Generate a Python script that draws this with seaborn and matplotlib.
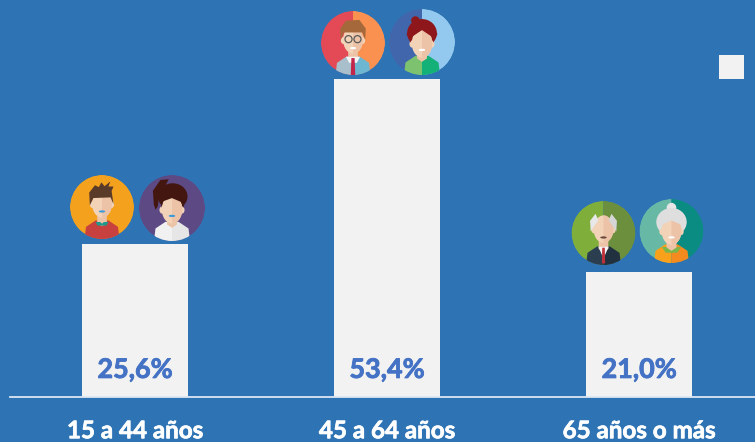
import numpy as np
import pandas as pd
import matplotlib
matplotlib.use('Agg')
import matplotlib.pyplot as plt
import matplotlib.patheffects as pe
import seaborn as sns
from matplotlib.patches import Circle, Ellipse, Polygon, Rectangle, Wedge

# Datos
categorias = ['15 a 44 años', '45 a 64 años', '65 años o más']
porcentajes = [25.6, 53.4, 21.0]
etiquetas = ['25,6%', '53,4%', '21,0%']

FONDO = '#2E74B5'
BARRA = '#F2F2F2'
TEXTO_VALOR = '#4472C4'

sns.set_theme(style='white')
plt.rcParams['font.family'] = ['Lato', 'DejaVu Sans']

W, H = 755, 442
fig = plt.figure(figsize=(W / 100, H / 100), dpi=100, facecolor=FONDO)
ax = fig.add_axes([10 / W, 1 - 397 / H, 745 / W, 397 / H], facecolor=FONDO)

df = pd.DataFrame({'categoria': categorias, 'porcentaje': porcentajes})
sns.barplot(data=df, x='categoria', y='porcentaje', color=BARRA, saturation=1, width=106 / 252, linewidth=0, ax=ax)
ax.set_xlim(-125 / 252, 2 + 116 / 252)
ax.set_ylim(0, 397 / 5.96)
ax.set_xlabel('')
ax.set_ylabel('')
ax.set_yticks([])
for lado in ['top', 'left', 'right']:
    ax.spines[lado].set_visible(False)
ax.spines['bottom'].set_color('#DCE6F2')
ax.spines['bottom'].set_linewidth(1.3)
ax.tick_params(axis='x', length=0, pad=16)
ax.set_xticks(range(3))
ax.set_xticklabels(categorias, color='white', fontweight='bold', fontsize=17.4)
for t in ax.get_xticklabels():
    t.set_path_effects([pe.withStroke(linewidth=0.5, foreground='white')])

for i, txt in enumerate(etiquetas):
    t = ax.text(i, 3.2, txt, ha='center', va='baseline', color=TEXTO_VALOR, fontweight='bold', fontsize=19.4)
    t.set_path_effects([pe.withStroke(linewidth=0.6, foreground=TEXTO_VALOR)])

# Capa en pixeles para la decoracion
capa = fig.add_axes([0, 0, 1, 1], facecolor='none')
capa.set_xlim(0, W)
capa.set_ylim(H, 0)
capa.axis('off')
capa.add_patch(Rectangle((719, 55), 25, 24, color=BARRA, lw=0))


def media_elipse(cx, cy, rx, ry):
    t = np.linspace(-np.pi / 2, np.pi / 2, 40)
    return np.column_stack([cx + rx * np.cos(t), cy + ry * np.sin(t)])


def avatar(cx, cy, r, izq, der, piel, piel2, cuerpo, cuerpo2):
    clip = Circle((cx, cy), r, transform=capa.transData)

    def poner(p):
        capa.add_patch(p)
        p.set_clip_path(clip)
        return p

    def pol(puntos, color):
        pts = np.array(puntos, dtype=float) * r + [cx, cy]
        return poner(Polygon(pts, closed=True, color=color, lw=0))

    # y va hacia abajo en esta capa
    poner(Wedge((cx, cy), r, 90, 270, color=izq, lw=0))
    poner(Wedge((cx, cy), r, -90, 90, color=der, lw=0))
    pol([[-0.56, 1.1], [-0.5, 0.62], [-0.2, 0.42], [0, 0.42], [0, 1.1]], cuerpo)
    pol([[0.56, 1.1], [0.5, 0.62], [0.2, 0.42], [0, 0.42], [0, 1.1]], cuerpo2)
    pol([[-0.15, 0.15], [0.15, 0.15], [0.15, 0.5], [0, 0.6], [-0.15, 0.5]], piel2)

    def cara(cy0=-0.12):
        for sx in (-1, 1):
            poner(Ellipse((cx + sx * 0.3 * r, cy + (cy0 + 0.02) * r), 0.16 * r, 0.22 * r, color=piel, lw=0))
        poner(Ellipse((cx, cy + cy0 * r), 0.62 * r, 0.86 * r, color=piel, lw=0))
        mitad = media_elipse(cx, cy + cy0 * r, 0.31 * r, 0.43 * r)
        poner(Polygon(mitad, closed=True, color=piel2, lw=0))

    def boca(color='white', y=0.1):
        poner(Ellipse((cx, cy + y * r), 0.2 * r, 0.07 * r, color=color, lw=0))

    return poner, pol, cara, boca


# Hombre joven
poner, pol, cara, boca = avatar(102, 207, 32, '#F4A11D', '#F4A11D', '#F3D3B7', '#EDC3A8', '#C8413F', '#C8413F')
pol([[-0.2, 0.47], [0.2, 0.47], [0.14, 0.58], [-0.14, 0.58]], '#1E9A8A')
pol([[-0.13, 0.4], [0.13, 0.4], [0, 0.52]], '#EDC3A8')
cara(-0.1)
pol([[-0.38, -0.05], [-0.4, -0.45], [-0.22, -0.68], [-0.1, -0.62], [-0.02, -0.77], [0.08, -0.65],
     [0.26, -0.8], [0.2, -0.64], [0.36, -0.64], [0.3, -0.5], [0.36, -0.08], [0.27, -0.3], [-0.27, -0.28]], '#5A3A28')
boca('#3F9BD8', 0.14)

# Mujer joven
poner, pol, cara, boca = avatar(172, 208, 33, '#5D4A85', '#5D4A85', '#F3D3B7', '#EDC3A8', '#F1F1F1', '#E6E6E6')
pol([[-0.55, -0.1], [-0.58, -0.52], [-0.35, -0.85], [-0.1, -0.87], [-0.2, -0.68], [-0.38, -0.45], [-0.43, -0.05], [-0.5, 0.05]], '#43160F')
poner(Ellipse((172 + 0.02 * 33, 208 - 0.35 * 33), 0.9 * 33, 0.8 * 33, color='#43160F', lw=0))
cara(0.04)
pol([[-0.32, 0.0], [-0.28, -0.2], [0.0, -0.3], [0.28, -0.18], [0.34, 0.0], [0.42, -0.35], [0.1, -0.55], [-0.35, -0.5]], '#43160F')
boca('#3F9BD8', 0.24)

# Hombre de mediana edad
poner, pol, cara, boca = avatar(353, 43, 32, '#E34A56', '#FB9150', '#F3D3B7', '#EDC3A8', '#A9BFCB', '#6DB7D2')
pol([[-0.22, 0.43], [0.22, 0.43], [0.12, 0.62], [-0.12, 0.62]], '#F5F5F5')
pol([[-0.05, 0.47], [0.05, 0.47], [0.07, 1.0], [-0.07, 1.0]], '#C2274B')
cara(-0.1)
pol([[-0.38, -0.1], [-0.4, -0.45], [-0.22, -0.7], [0.2, -0.72], [0.4, -0.45], [0.38, -0.1],
     [0.29, -0.33], [-0.29, -0.33]], '#A5683A')
for sx in (-1, 1):
    poner(Circle((353 + sx * 0.14 * 32, 43 - 0.12 * 32), 0.11 * 32, fc='none', ec='#5A5A5A', lw=0.9))
boca('white', 0.16)

# Mujer de mediana edad
poner, pol, cara, boca = avatar(422, 42, 33, '#4266AC', '#93C9EE', '#F3D3B7', '#EDC3A8', '#7DC36F', '#13B077')
poner(Circle((422 - 0.2 * 33, 42 - 0.65 * 33), 0.13 * 33, color='#8E171B', lw=0))
poner(Ellipse((422, 42 - 0.27 * 33), 0.9 * 33, 0.85 * 33, color='#8E171B', lw=0))
cara(0.04)
pol([[-0.34, 0.02], [-0.3, -0.16], [-0.0, -0.36], [0.3, -0.16], [0.34, 0.02], [0.47, -0.25], [0.1, -0.6], [-0.47, -0.25]], '#8E171B')
boca('white', 0.24)

# Hombre mayor
poner, pol, cara, boca = avatar(603.5, 233, 32, '#7FAE3B', '#6C8F3D', '#F3D3B7', '#EDC3A8', '#2B3E50', '#22313F')
pol([[-0.16, 0.43], [0.16, 0.43], [0, 0.8]], '#F5F5F5')
pol([[-0.04, 0.46], [0.04, 0.46], [0.05, 0.95], [-0.05, 0.95]], '#C0303A')
cara(-0.12)
pol([[-0.4, -0.05], [-0.42, -0.38], [-0.25, -0.6], [-0.16, -0.4], [-0.3, -0.2]], '#E8E8E8')
pol([[0.4, -0.05], [0.42, -0.38], [0.25, -0.6], [0.16, -0.4], [0.3, -0.2]], '#D6D6D6')
boca('#6B4A3A', 0.14)

# Mujer mayor
poner, pol, cara, boca = avatar(671.5, 231, 32, '#67B9A5', '#0B8C82', '#F3D3B7', '#EDC3A8', '#F9A11B', '#F58A1F')
pol([[-0.3, 0.5], [0.3, 0.5], [0.18, 0.68], [-0.18, 0.68]], '#7DB54A')
pol([[-0.15, 0.3], [0.15, 0.3], [0.15, 0.52], [0, 0.62], [-0.15, 0.52]], '#EDC3A8')
poner(Circle((671.5, 231 - 0.73 * 32), 0.15 * 32, color='#E6E6E6', lw=0))
poner(Ellipse((671.5, 231 - 0.28 * 32), 0.95 * 32, 0.88 * 32, color='#DEDEDE', lw=0))
cara(0.0)
pol([[-0.34, -0.04], [-0.3, -0.2], [0.0, -0.33], [0.3, -0.2], [0.34, -0.04], [0.46, -0.3], [0.1, -0.62], [-0.46, -0.3]], '#DEDEDE')
boca('white', 0.2)

fig.savefig('out.png', dpi=100, facecolor=FONDO)
